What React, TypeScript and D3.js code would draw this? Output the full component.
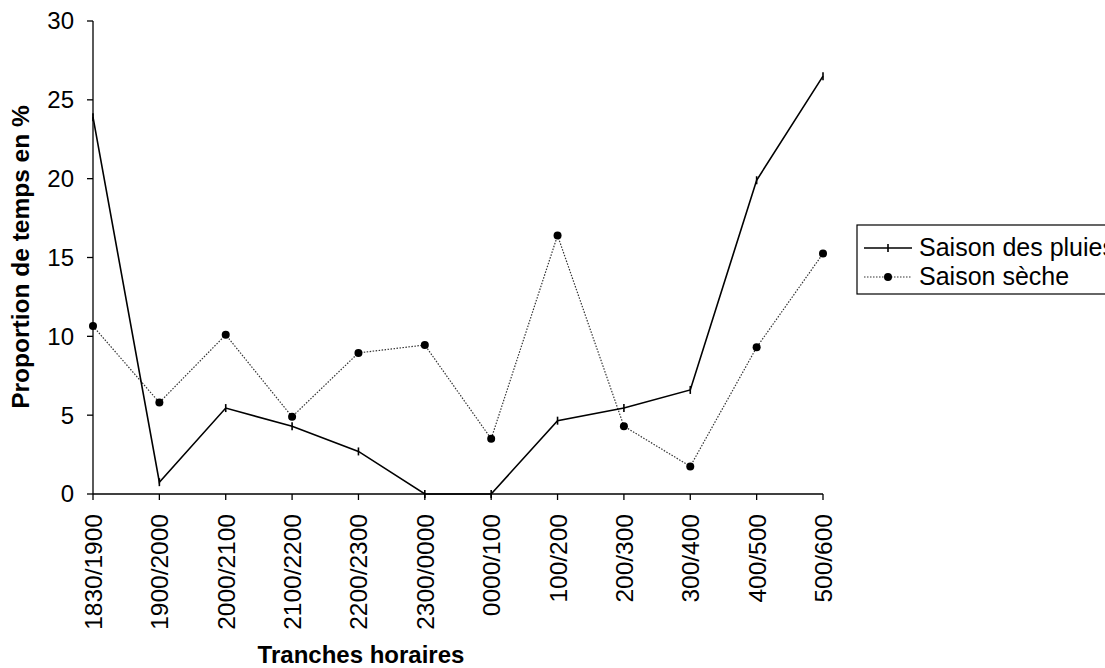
import React from "react";
import * as d3 from "d3";

const categories = ["1830/1900","1900/2000","2000/2100","2100/2200","2200/2300","2300/0000","0000/100","100/200","200/300","300/400","400/500","500/600"];
const rainySeason = [23.9, 0.75, 5.45, 4.3, 2.7, 0, 0, 4.65, 5.45, 6.6, 19.9, 26.5];
const drySeason = [10.65, 5.8, 10.1, 4.9, 8.95, 9.45, 3.5, 16.4, 4.3, 1.75, 9.3, 15.25];
const yTicks = [0, 5, 10, 15, 20, 25, 30];
const seriesNames = ["Saison des pluies", "Saison sèche"];

const FONT = "'Liberation Sans', Arial, sans-serif";

export default function App() {
  const W = 1105, H = 668;
  const x = d3.scalePoint<string>().domain(categories).range([93, 823]);
  const y = d3.scaleLinear().domain([0, 30]).range([494, 21]);
  const line = d3.line<number>().x((_, i) => x(categories[i])!).y((d) => y(d));

  return (
    <svg width={W} height={H} style={{ position: "absolute", left: 0, top: 0, background: "#fff" }}>
      {/* y axis */}
      <line x1={93} x2={93} y1={y(30)} y2={y(0)} stroke="#000" strokeWidth={1.3} />
      {yTicks.map((t) => (
        <g key={t}>
          <line x1={87} x2={93} y1={y(t)} y2={y(t)} stroke="#000" strokeWidth={1.3} />
          <text x={74} y={y(t)} dy="0.35em" textAnchor="end" fontFamily={FONT} fontSize={24} fill="#000">{t}</text>
        </g>
      ))}
      {/* x axis */}
      <line x1={93} x2={823} y1={494} y2={494} stroke="#000" strokeWidth={1.3} />
      {categories.map((c) => (
        <g key={c}>
          <line x1={x(c)!} x2={x(c)!} y1={494} y2={500} stroke="#000" strokeWidth={1.3} />
          <text transform={`translate(${x(c)! + 9},514) rotate(-90)`} textAnchor="end" fontFamily={FONT} fontSize={24.5} fill="#000">{c}</text>
        </g>
      ))}
      {/* axis titles */}
      <text x={361} y={663} textAnchor="middle" fontFamily={FONT} fontSize={24} fontWeight="bold" fill="#000">Tranches horaires</text>
      <text transform="translate(29,257) rotate(-90)" textAnchor="middle" fontFamily={FONT} fontSize={24.5} fontWeight="bold" fill="#000">Proportion de temps en %</text>

      {/* dry season */}
      <path d={line(drySeason)!} fill="none" stroke="#333" strokeWidth={1.2} strokeDasharray="1.5,1.5" />
      {drySeason.map((v, i) => (
        <circle key={i} cx={x(categories[i])!} cy={y(v)} r={4} fill="#000" />
      ))}
      {/* rainy season */}
      <path d={line(rainySeason)!} fill="none" stroke="#000" strokeWidth={1.6} />
      {rainySeason.map((v, i) => (
        <line key={i} x1={x(categories[i])!} x2={x(categories[i])!} y1={y(v) - 4} y2={y(v) + 4} stroke="#000" strokeWidth={1.6} />
      ))}

      {/* legend */}
      <rect x={857} y={225} width={260} height={69} fill="#fff" stroke="#000" strokeWidth={1.2} />
      <line x1={864} x2={912} y1={248} y2={248} stroke="#000" strokeWidth={1.6} />
      <line x1={888} x2={888} y1={244} y2={252} stroke="#000" strokeWidth={1.6} />
      <text x={919} y={256} fontFamily={FONT} fontSize={25} fill="#000">{seriesNames[0]}</text>
      <line x1={864} x2={912} y1={277} y2={277} stroke="#333" strokeWidth={1.2} strokeDasharray="1.5,1.5" />
      <circle cx={888} cy={277} r={4} fill="#000" />
      <text x={919} y={285} fontFamily={FONT} fontSize={25} fill="#000">{seriesNames[1]}</text>
    </svg>
  );
}
